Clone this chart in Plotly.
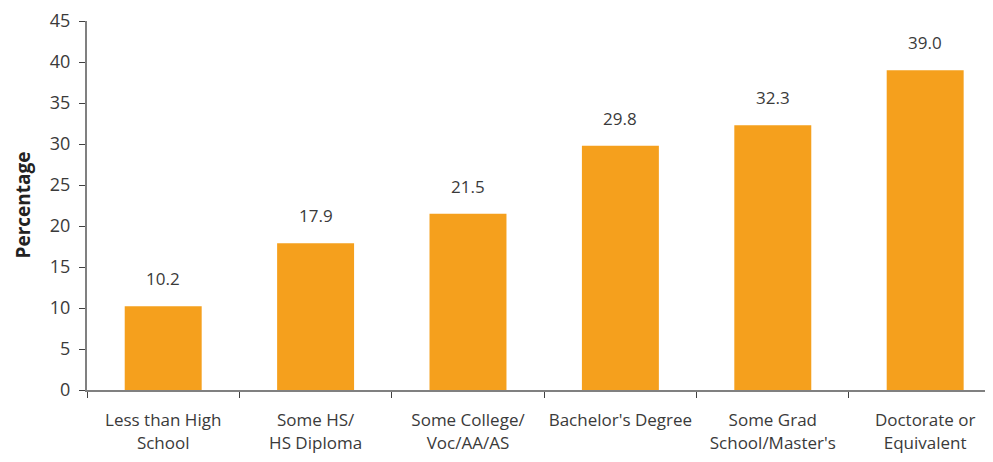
import plotly.graph_objects as go

categories = ["Less than High<br>School", "Some HS/<br>HS Diploma", "Some College/<br>Voc/AA/AS",
              "Bachelor's Degree", "Some Grad<br>School/Master's", "Doctorate or<br>Equivalent"]
values = [10.2, 17.9, 21.5, 29.8, 32.3, 39.0]
value_labels = ["10.2", "17.9", "21.5", "29.8", "32.3", "39.0"]
y_ticks = [0, 5, 10, 15, 20, 25, 30, 35, 40, 45]

FONT = "Open Sans"
TXT = "#3a3a3a"

fig = go.Figure()
fig.add_trace(go.Bar(x=categories, y=values, marker=dict(color="#F5A01D", line=dict(width=0)),
                     hoverinfo="skip"))

for c, v, t in zip(categories, values, value_labels):
    fig.add_annotation(x=c, y=v, text=t, showarrow=False, yanchor="bottom", yshift=14,
                       font=dict(family=FONT, size=17, color=TXT))

fig.add_annotation(xref="paper", yref="paper", x=(22 - 87) / 906, y=0.5, text="<b>Percentage</b>",
                   textangle=-90, showarrow=False, xanchor="center", yanchor="middle",
                   font=dict(family=FONT, size=19, color="#222"))

# page has an 8px body margin; figure is sized/offset to compensate
fig.update_layout(
    width=985, height=454,
    margin=dict(l=79, r=0, t=13, b=72),
    plot_bgcolor="white", paper_bgcolor="white",
    bargap=0.495,
    showlegend=False,
    font=dict(family=FONT, size=16, color=TXT),
)
fig.update_xaxes(
    range=[-0.5, 5.445], automargin=False, tickangle=0,
    showline=True, linecolor="#808080", linewidth=2,
    ticks="outside", tickson="boundaries", ticklen=6, tickcolor="#404040", tickwidth=1,
    showgrid=False, tickfont=dict(family=FONT, size=17, color=TXT),
    ticklabelstandoff=14,
)
fig.update_yaxes(
    range=[0, 45], tickvals=y_ticks, automargin=False,
    showline=True, linecolor="#808080", linewidth=2,
    ticks="outside", ticklen=6, tickcolor="#404040", tickwidth=1,
    showgrid=False, zeroline=False,
    tickfont=dict(family=FONT, size=18, color=TXT),
    ticklabelstandoff=5,
)

fig.write_html("out.html")
